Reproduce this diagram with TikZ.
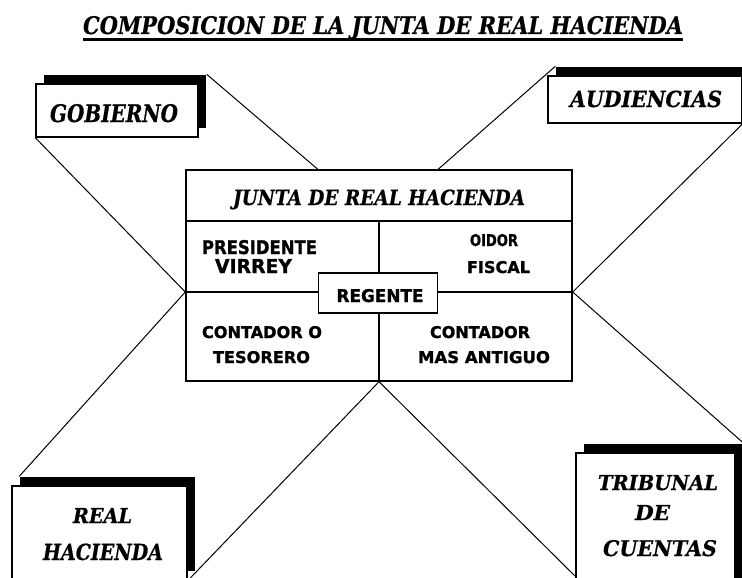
\documentclass[tikz,border=0pt]{standalone}
\usepackage{fontspec}
\usepackage{graphicx}
\setmainfont{DejaVu Serif}
\newfontfamily\slab{DejaVu Serif Bold Italic}[FakeBold=0.6]
\newfontfamily\heavy{DejaVu Sans Bold}[FakeBold=1.2]
\usetikzlibrary{shadows,calc}

\newcommand{\fitbox}[3]{\resizebox{#1pt}{#2pt}{#3}}   % text scaled to width x cap height

\tikzset{
    shadowbox/.style={draw, line width=1.4pt, fill=white, inner sep=0pt,
        drop shadow={shadow xshift=8pt, shadow yshift=9pt, fill=black, opacity=1}},
    word/.style={anchor=base, inner sep=0pt},
    tie/.style={line width=1pt},
}

\begin{document}
\begin{tikzpicture}[x=1pt,y=-1pt]
    \useasboundingbox (0,0) rectangle (742,578);
    \clip (0,0) rectangle (742,578);

    % Title with underline
    \node[word] (title) at (383,34) {\fitbox{600}{18}{\slab COMPOSICION DE LA JUNTA DE REAL HACIENDA}};
    \draw[line width=3pt] ([yshift=-5.5pt]title.base west) -- ([yshift=-5.5pt]title.base east);

    % Outer boxes with shadows
    \node[shadowbox, minimum width=162, minimum height=53] (gob) at (117,110.5) {};
    \node[shadowbox, minimum width=194, minimum height=47] (aud) at (645,99.5) {};
    \node[shadowbox, minimum width=175, minimum height=94] (real) at (99.5,533) {};
    \node[shadowbox, minimum width=159, minimum height=147] (trib) at (655.5,526.5) {};
    \coordinate (tribfoot) at ($(trib.north west)+(0,-124pt)$);   % where the line meets the box
    \node[word] (gobt)   at (114,122)   {\fitbox{128}{18}{\slab GOBIERNO}};
    \node[word] (audt)   at (646,107)   {\fitbox{152}{16.5}{\slab AUDIENCIAS}};
    \node[word] (realt)  at (102.5,523) {\fitbox{59}{15}{\slab REAL}};
    \node[word] (hacit)  at (103,560)   {\fitbox{120}{16.5}{\slab HACIENDA}};
    \node[word] (tribt)  at (658,490)   {\fitbox{120}{15}{\slab TRIBUNAL}};
    \node[word] (det)    at (652.5,520) {\fitbox{35}{15}{\slab DE}};
    \node[word] (cuent)  at (660,556)   {\fitbox{114}{16}{\slab CUENTAS}};

    % Central box of the junta
    \node[draw, line width=1.4pt, minimum width=386, minimum height=211, inner sep=0pt] (junta) at (379,275.5) {};
    \node[draw, line width=1.4pt, minimum width=386, minimum height=51, anchor=north, inner sep=0pt] (jhead) at (junta.north) {};
    \node[word] (jheadt) at (379,205) {\fitbox{292}{15.5}{\slab JUNTA DE REAL HACIENDA}};
    \coordinate (mid) at (379,292);                   % crossing of the cells
    \draw[line width=1.4pt] (jhead.south) -- (junta.south);
    \draw[line width=1.4pt] (junta.west |- mid) -- (junta.east |- mid);
    \node[draw, line width=1.4pt, fill=white, minimum width=119, minimum height=40] (reg) at (378,293) {};
    \node[word] (regt) at (380,302) {\fitbox{87}{13}{\heavy REGENTE}};

    % Members in the four cells
    \node[word] (pres)   at (259.5,254) {\fitbox{115}{14}{\heavy PRESIDENTE}};
    \node[word] (virrey) at (253.5,273) {\fitbox{77}{14}{\heavy VIRREY}};
    \node[word] (oidor)  at (494,246)   {\fitbox{48}{12}{\heavy OIDOR}};
    \node[word] (fiscal) at (498.5,273) {\fitbox{63}{12}{\heavy FISCAL}};
    \node[word] (conto)  at (262,338)   {\fitbox{120}{12}{\heavy CONTADOR O}};
    \node[word] (tesor)  at (261.5,363) {\fitbox{97}{12}{\heavy TESORERO}};
    \node[word] (contm)  at (480,338)   {\fitbox{100}{12}{\heavy CONTADOR}};
    \node[word] (antig)  at (484,363)   {\fitbox{132}{12}{\heavy MAS ANTIGUO}};

    % Lines from the outer boxes to the junta
    \coordinate (topl) at (reg.west |- junta.north);
    \coordinate (topr) at (reg.east |- junta.north);
    \coordinate (midl) at (junta.west |- mid);
    \coordinate (midr) at (junta.east |- mid);
    \draw[tie] ($(gob.north east)+(8pt,9pt)$) -- (topl);
    \draw[tie] (gob.south west) -- (midl);
    \draw[tie] ($(aud.north west)+(8pt,9pt)$) -- (topr);
    \draw[tie] (aud.south east) -- (midr);
    \draw[tie] ($(real.north west)+(8pt,9pt)$) -- (midl);
    \draw[tie] (real.south east) -- (junta.south);
    \draw[tie] (tribfoot) -- (junta.south);
    \draw[tie] ($(trib.north east)+(8pt,9pt)$) -- (midr);
\end{tikzpicture}
\end{document}
